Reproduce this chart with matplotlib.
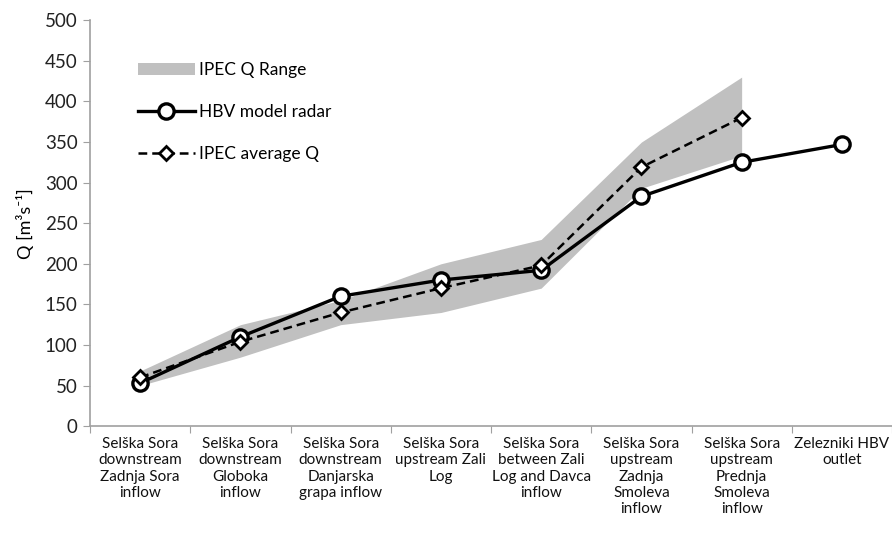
import numpy as np
import matplotlib.pyplot as plt

sites = [
    "Selška Sora\ndownstream\nZadnja Sora\ninflow",
    "Selška Sora\ndownstream\nGloboka\ninflow",
    "Selška Sora\ndownstream\nDanjarska\ngrapa inflow",
    "Selška Sora\nupstream Zali\nLog",
    "Selška Sora\nbetween Zali\nLog and Davca\ninflow",
    "Selška Sora\nupstream\nZadnja\nSmoleva\ninflow",
    "Selška Sora\nupstream\nPrednja\nSmoleva\ninflow",
    "Zelezniki HBV\noutlet",
]
hbv_radar = [53, 110, 160, 180, 192, 283, 325, 347]
ipec_avg = [60, 104, 140, 170, 198, 319, 380]
ipec_low = [50, 85, 125, 140, 170, 293, 333]
ipec_high = [68, 125, 155, 200, 230, 350, 430]

plt.rcParams["font.family"] = ["Lato", "DejaVu Sans"]

fig = plt.figure(figsize=(8.92, 5.34), dpi=100)
ax = fig.add_axes([0.101, 0.202, 0.899, 0.76])

x = np.arange(1, len(sites) + 1)
xr = x[:len(ipec_avg)]

ax.fill_between(xr, ipec_low, ipec_high, color="#c0c0c0", lw=0, label="IPEC Q Range")
ax.plot(x, hbv_radar, "-o", color="black", lw=2.4, ms=11, mfc="white",
        mew=2.4, label="HBV model radar")
ax.plot(xr, ipec_avg, "--D", color="black", lw=1.8, ms=7, mfc="white",
        mew=2.0, dashes=(3.5, 2), label="IPEC average Q")

ax.set_xlim(0.5, len(sites) + 0.5)
ax.set_ylim(0, 500)
ax.set_yticks(range(0, 501, 50))
ax.set_xticks(np.arange(0.5, len(sites) + 1, 1))
ax.set_xticklabels([])
ax.set_xticks(x, minor=True)
ax.set_xticklabels(sites, minor=True, fontsize=11, linespacing=1.2, va="top", color="#111111")
ax.tick_params(axis="x", which="minor", length=0, pad=8)
ax.tick_params(axis="x", which="major", length=5, color="#a0a0a0")
ax.tick_params(axis="y", length=5, color="#a0a0a0", labelsize=13.5, labelcolor="#222222", pad=4)

for side in ["top", "right"]:
    ax.spines[side].set_visible(False)
for side in ["left", "bottom"]:
    ax.spines[side].set_color("#a0a0a0")
    ax.spines[side].set_linewidth(1.2)

ax.set_ylabel("Q [m³s⁻¹]", fontsize=13)
ax.yaxis.set_label_coords(-0.07, 0.5)

ax.legend(loc="upper left", bbox_to_anchor=(0.04, 0.935), frameon=False, fontsize=12.5,
          labelspacing=1.5, handlelength=3.3, handletextpad=0.2)

fig.savefig("out.png", dpi=100)
